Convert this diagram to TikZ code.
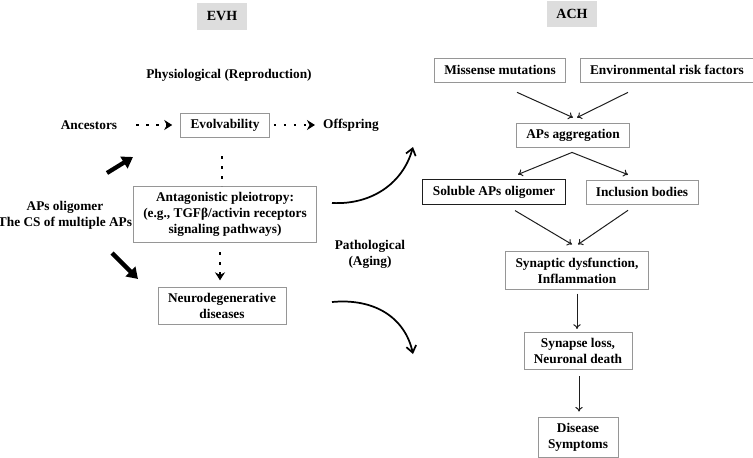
\documentclass[tikz,border=0pt]{standalone}
\usepackage{fontspec}
\setmainfont{Liberation Serif}
\usetikzlibrary{arrows.meta}
\definecolor{boxgray}{RGB}{150, 150, 150}
\definecolor{headgray}{RGB}{221, 221, 221}
\definecolor{linegray}{RGB}{30, 30, 30}
\tikzstyle{box} = [rectangle, draw=boxgray, line width=0.5pt,
                   align=center, inner xsep=7.5pt, inner ysep=4.5pt,
                   minimum height=18pt]
\tikzstyle{txt} = [align=center, inner sep=0pt]
\tikzstyle{head} = [rectangle, fill=headgray, minimum width=37.5pt,
                    minimum height=20pt, font=\fontsize{10.5}{12}\selectfont\bfseries]
\tikzstyle{arrow} = [draw=linegray, line width=0.75pt, -{To[length=3.5pt,width=5.5pt]}]
\tikzstyle{dotarrow} = [line width=2pt, dash pattern=on 2pt off 5.5pt,
                        -{Stealth[length=6pt,width=7.5pt]}]
\tikzstyle{bigarrow} = [line width=3.2pt, -{Triangle[length=8pt,width=10pt]}]
\tikzstyle{curvearrow} = [line width=1.3pt, -{Straight Barb[length=5pt,width=7.5pt]}]

\begin{document}
\begin{tikzpicture}[x=0.75pt, y=-0.75pt, font=\fontsize{10}{12}\selectfont\bfseries]
        \useasboundingbox (0,0) rectangle (753,457);

        % EVH side
        \node (EVH) [head] at (222,16.5) {EVH};
        \node (Phys) [txt] at (229,75) {Physiological (Reproduction)};
        \node (Ancestors) [txt] at (89,125) {Ancestors};
        \node (Evolv) [box] at (225,125) {Evolvability};
        \node (Offspring) [txt] at (351,125) {Offspring};
        \node (Antag) [box] at (225,214.5) {Antagonistic pleiotropy:\\
              (e.g., TGFβ/activin receptors\\signaling pathways)};
        \node (Neuro) [box] at (222,306) {Neurodegenerative\\diseases};
        \node (APs) [txt] at (65,215) {APs oligomer\\The CS of multiple APs};
        \node (Patho) [txt] at (370,254) {Pathological\\(Aging)};

        \draw [dotarrow, shorten <=14pt, shorten >=6pt] (Ancestors) -- (Evolv);
        \draw [dotarrow, shorten <=3pt, shorten >=6pt] (Evolv) -- (Offspring);
        \draw [line width=2pt, dash pattern=on 2pt off 5.5pt, shorten <=14pt]
              ([xshift=-2.25pt]Evolv.south) -- ([xshift=-2.25pt]Antag.north);
        \draw [dotarrow, shorten <=7pt, shorten >=5pt]
              ([xshift=-3.75pt]Antag.south) -- ([xshift=-1.5pt]Neuro.north);

        \coordinate (upS) at (107,173);
        \coordinate (upE) at (133,157);
        \coordinate (dnS) at (112,253);
        \coordinate (dnE) at (138,279);
        \draw [bigarrow] (upS) -- (upE);
        \draw [bigarrow] (dnS) -- (dnE);

        \coordinate (curveA) at (332,203);
        \coordinate (curveB) at (413,147);
        \coordinate (curveC) at (332,302);
        \coordinate (curveD) at (413,354);
        \draw [curvearrow] (curveA) .. controls (372,205) and (403,183) .. (curveB);
        \draw [curvearrow] (curveC) .. controls (375,298) and (405,318) .. (curveD);

        % ACH side
        \node (ACH) [head] at (572,14) {ACH};
        \node (Missense) [box] at (500,70) {Missense mutations};
        \node (Environ) [box] at (667,70) {Environmental risk factors};
        \node (Aggreg) [box] at (573,135) {APs aggregation};
        \node (Soluble) [box, draw=linegray, line width=0.7pt] at (494,192) {Soluble APs oligomer};
        \node (Inclusion) [box] at (642,192) {Inclusion bodies};
        \node (Synaptic) [box] at (577,270.5) {Synaptic dysfunction,\\Inflammation};
        \node (Synapse) [box] at (578,351) {Synapse loss,\\Neuronal death};
        \node (Disease) [box] at (578,437) {Disease\\Symptoms};

        \draw [arrow] ([shift={(17,10)}]Missense.south) -- ([shift={(0,-5)}]Aggreg.north);
        \draw [arrow] ([shift={(-39,10)}]Environ.south) -- ([shift={(4,-5)}]Aggreg.north);
        \draw [arrow] ([shift={(-1,5)}]Aggreg.south) -- ([shift={(24,-5)}]Soluble.north);
        \draw [arrow] ([shift={(-1,5)}]Aggreg.south) -- ([shift={(-14,-5)}]Inclusion.north);
        \draw [arrow] ([shift={(21,6)}]Soluble.south) -- ([shift={(-5,-7)}]Synaptic.north);
        \draw [arrow] ([shift={(-14,6)}]Inclusion.south) -- ([shift={(1,-7)}]Synaptic.north);
        \draw [arrow] ([shift={(0,4)}]Synaptic.south) -- ([shift={(-1,-3)}]Synapse.north);
        \draw [arrow] ([shift={(1,6)}]Synapse.south) -- ([shift={(1,-5)}]Disease.north);

\end{tikzpicture}
\end{document}
